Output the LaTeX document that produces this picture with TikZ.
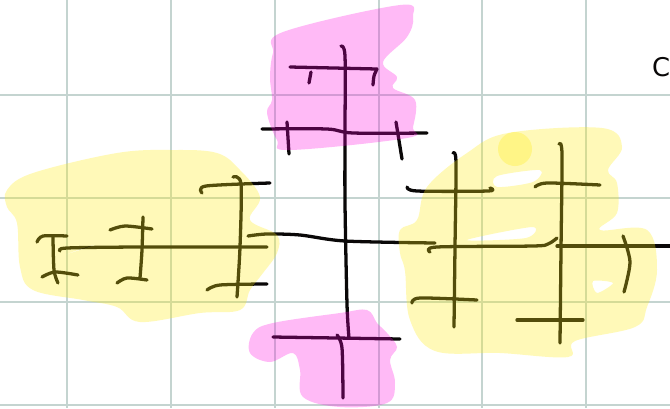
\documentclass[tikz,border=0pt]{standalone}
\usepackage{fontspec}
\setsansfont{DejaVu Sans}
\definecolor{gradeT}{RGB}{196,212,208}
\definecolor{tintaT}{RGB}{10,8,8}
\definecolor{rosaM}{RGB}{255,0,225}
\definecolor{amareloM}{RGB}{255,238,20}

\begin{document}
\begin{tikzpicture}[x=0.03cm, y=-0.03cm,
    grade/.style={draw=gradeT, line width=1.1pt},
    traco/.style={draw=tintaT, line width=2.8pt, line cap=round, line join=round},
    marcaR/.style={fill=rosaM, fill opacity=0.27},
    marcaA/.style={fill=amareloM, fill opacity=0.3, even odd rule}]
  \useasboundingbox (0,0) rectangle (670,408);
  \fill[white] (0,0) rectangle (670,408);
  % grade do papel
  \foreach \gx in {67,171,275,379,482,586} \draw[grade] (\gx,0) -- (\gx,408);
  \foreach \gy in {95,198,302,405} \draw[grade] (0,\gy) -- (670,\gy);
  % tronco central
  \draw[traco] plot[smooth] coordinates {(341,46) (345,56) (345,133) (345,203) (347,304) (349,338)};
  \draw[traco] (290,67) -- (377,69);
  \draw[traco] (311,72) -- (309,83);
  \draw[traco] plot[smooth] coordinates {(377,69) (374,76) (373,85)};
  \draw[traco] plot[smooth] coordinates {(262,129) (327,129) (353,133) (427,133)};
  \draw[traco] (287,122) -- (289,154);
  \draw[traco] (396,122) -- (402,159);
  \draw[traco] plot[smooth] coordinates {(248,236) (267,234) (300,235) (345,241) (435,243)};
  \draw[traco] (273,337) -- (400,339);
  \draw[traco] plot[smooth] coordinates {(337,335) (342,348) (343,398)};
  % ramo esquerdo
  \draw[traco] plot[smooth] coordinates {(60,251) (67,248) (140,247) (267,247)};
  \draw[traco] plot[smooth] coordinates {(37,242) (43,236) (67,236)};
  \draw[traco] plot[smooth] coordinates {(53,237) (54,270) (58,283)};
  \draw[traco] plot[smooth] coordinates {(42,277) (55,272) (78,275)};
  \draw[traco] plot[smooth] coordinates {(110,230) (125,226) (152,229)};
  \draw[traco] plot[smooth] coordinates {(143,217) (142,250) (140,278)};
  \draw[traco] plot[smooth] coordinates {(117,283) (127,278) (147,280)};
  \draw[traco] plot[smooth] coordinates {(233,177) (241,184) (240,247) (237,297)};
  \draw[traco] plot[smooth] coordinates {(202,193) (206,186) (270,183)};
  \draw[traco] plot[smooth] coordinates {(207,290) (220,285) (267,284)};
  % ramo direito
  \draw[traco] plot[smooth] coordinates {(453,153) (456,162) (455,247) (454,327)};
  \draw[traco] plot[smooth] coordinates {(407,187) (417,191) (488,191) (490,188)};
  \draw[traco] plot[smooth] coordinates {(430,252) (437,247) (533,246) (548,244) (557,238)};
  \draw[traco] (557,246) -- (670,246);
  \draw[traco] plot[smooth] coordinates {(412,303) (420,298) (477,300)};
  \draw[traco] plot[smooth] coordinates {(559,144) (562,154) (561,250) (560,343)};
  \draw[traco] plot[smooth] coordinates {(535,187) (547,183) (600,185)};
  \draw[traco] (517,320) -- (583,320);
  \draw[traco] plot[smooth] coordinates {(623,236) (630,262) (624,292)};
  \node[font=\sffamily\fontsize{22}{22}\selectfont, text=tintaT, inner sep=0pt, anchor=west] (letraC) at (652,67) {C};
  % marca-texto
  \fill[marcaR] plot[smooth cycle, tension=0.6] coordinates {(283,32) (400,5) (413,17) (407,37) (383,62)
    (397,77) (393,88) (415,100) (413,127) (407,138) (290,150) (277,140) (267,113) (272,100) (270,77) (273,53)};
  \fill[marcaR] plot[smooth cycle, tension=0.6] coordinates {(253,333) (273,323) (340,313) (367,310)
    (377,323) (387,333) (397,347) (390,360) (395,383) (387,403) (340,407) (303,397) (300,370) (293,353)
    (270,362) (250,353)};
  \fill[marcaA] plot[smooth cycle, tension=0.6] coordinates {(7,190) (33,173) (117,153) (173,150)
    (217,153) (240,170) (260,197) (250,220) (277,235) (277,253) (263,273) (250,290) (240,310)
    (200,313) (140,322) (117,307) (83,300) (33,290) (20,267) (17,223) (7,207)}
    plot[smooth cycle] coordinates {(62,256) (110,240) (166,224) (90,246)};
  \fill[marcaA] plot[smooth cycle, tension=0.6] coordinates {(400,230) (417,220) (427,187) (467,153)
    (508,133) (602,128) (622,147) (608,170) (617,183) (617,213) (600,230) (647,230) (657,270)
    (647,307) (635,327) (575,341) (568,357) (500,353) (435,351) (410,320) (405,271) (400,253)}
    plot[smooth cycle] coordinates {(497,176) (540,170) (533,182) (497,187)}
    plot[smooth cycle] coordinates {(467,240) (532,227) (526,238)}
    plot[smooth cycle] coordinates {(593,281) (613,283) (597,293)};
  \fill[marcaA] (515,149) circle (17);
\end{tikzpicture}
\end{document}
